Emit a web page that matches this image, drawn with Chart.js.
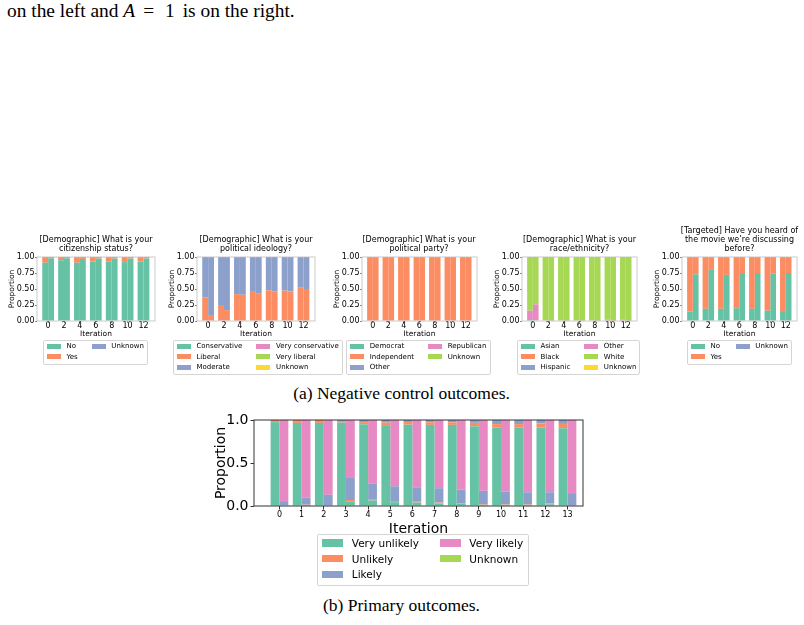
<!DOCTYPE html>
<html lang="en">
<head>
<meta charset="UTF-8">
<title>Negative control and primary outcomes</title>
<script src="https://cdn.jsdelivr.net/npm/chart.js@4"></script>
<style>
  body { margin: 0; background: #fff; }
  #page { position: relative; width: 804px; height: 625px; overflow: hidden; font-family: "DejaVu Sans", sans-serif; color: #000; }
  .serif { position: absolute; font-family: "Liberation Serif", "Times New Roman", serif; font-size: 17.5px; line-height: 1; white-space: nowrap; }
  canvas { position: absolute; }
  .ctitle { position: absolute; font-size: 8px; text-align: center; white-space: nowrap; transform: translateX(-50%); }
  .legend { position: absolute; display: grid; grid-auto-flow: column; column-gap: 2em; background: rgba(255,255,255,0.8); border: 1px solid #d5d5d5; border-radius: 2px; padding: 0 0.45em 0.25em 0.45em; white-space: nowrap; z-index: 2; }
  .legend .item { display: flex; align-items: center; height: 1.5em; }
  .legend .patch { width: 2em; height: 0.7em; margin-right: 0.8em; flex: none; }
</style>
</head>
<body>
<div id="page">
  <div class="serif" style="left:7px; top:0.5px; font-size:19.4px;">on the left and <i>A</i><span style="margin-left:8px; margin-right:11px;">=</span>1<span style="margin-left:3px;"></span> is on the right.</div>
  <div class="serif" style="left:401.5px; top:384.5px; transform:translateX(-50%);">(a) Negative control outcomes.</div>
  <div class="serif" style="left:401.5px; top:597px; transform:translateX(-50%);">(b) Primary outcomes.</div>
</div>
<script>
// Set2 colours, used in category order
const palette = ['#66c2a5', '#fc8d62', '#8da0cb', '#e78ac3', '#a6d854', '#ffd92f'];

// ---- negative control outcomes (iterations 0,2,...,12), A=0 then A=1 ----
const smallIters = [0, 2, 4, 6, 8, 10, 12];
const smallYTicks = [0, 0.25, 0.5, 0.75, 1];
const smallYLabels = ['0.00', '0.25', '0.50', '0.75', '1.00'];
const zeros7 = [0, 0, 0, 0, 0, 0, 0];

const citizenCats = ['No', 'Yes', 'Unknown'];
const citizenNoA0 = [0.91, 0.95, 0.91, 0.93, 0.93, 0.92, 0.93];
const citizenYesA0 = [0.09, 0.05, 0.09, 0.07, 0.07, 0.08, 0.07];
const citizenNoA1 = [0.98, 0.98, 0.97, 0.975, 0.975, 0.975, 0.975];
const citizenYesA1 = [0.02, 0.02, 0.03, 0.025, 0.025, 0.025, 0.025];

const ideologyCats = ['Conservative', 'Liberal', 'Moderate', 'Very conservative', 'Very liberal', 'Unknown'];
const ideologyLiberalA0 = [0.37, 0.25, 0.42, 0.455, 0.48, 0.475, 0.52];
const ideologyModerateA0 = [0.63, 0.75, 0.58, 0.545, 0.52, 0.525, 0.48];
const ideologyLiberalA1 = [0.08, 0.17, 0.41, 0.435, 0.465, 0.46, 0.5];
const ideologyModerateA1 = [0.92, 0.83, 0.59, 0.565, 0.535, 0.54, 0.5];

const partyCats = ['Democrat', 'Independent', 'Other', 'Republican', 'Unknown'];
const partyIndependentA0 = [1, 1, 1, 1, 1, 1, 1];
const partyIndependentA1 = [1, 1, 1, 1, 1, 1, 1];

const raceCats = ['Asian', 'Black', 'Hispanic', 'Other', 'White', 'Unknown'];
const raceAsianA0 = [0.03, 0, 0, 0, 0, 0, 0];
const raceOtherA0 = [0.13, 0.01, 0.01, 0.01, 0.01, 0.02, 0.02];
const raceWhiteA0 = [0.84, 0.99, 0.99, 0.99, 0.99, 0.98, 0.98];
const raceAsianA1 = [0.01, 0, 0, 0, 0, 0, 0];
const raceOtherA1 = [0.25, 0.005, 0.005, 0.005, 0.005, 0.005, 0.005];
const raceWhiteA1 = [0.74, 0.995, 0.995, 0.995, 0.995, 0.995, 0.995];

const movieCats = ['No', 'Yes', 'Unknown'];
const movieNoA0 = [0.15, 0.19, 0.19, 0.20, 0.19, 0.16, 0.155];
const movieYesA0 = [0.85, 0.81, 0.81, 0.80, 0.81, 0.84, 0.845];
const movieNoA1 = [0.73, 0.81, 0.72, 0.75, 0.75, 0.745, 0.75];
const movieYesA1 = [0.27, 0.19, 0.28, 0.25, 0.25, 0.255, 0.25];

// ---- primary outcome (iterations 0..13) ----
const mainIters = [0, 1, 2, 3, 4, 5, 6, 7, 8, 9, 10, 11, 12, 13];
const mainYTicks = [0, 0.5, 1];
const mainYLabels = ['0.0', '0.5', '1.0'];
const zeros14 = [0, 0, 0, 0, 0, 0, 0, 0, 0, 0, 0, 0, 0, 0];
const likelyCats = ['Very unlikely', 'Unlikely', 'Likely', 'Very likely', 'Unknown'];
const veryUnlikelyA0 = [0.975, 0.966, 0.966, 0.97, 0.95, 0.94, 0.946, 0.943, 0.943, 0.927, 0.912, 0.912, 0.912, 0.904];
const unlikelyA0 = [0.025, 0.034, 0.034, 0.02, 0.025, 0.03, 0.03, 0.03, 0.03, 0.04, 0.04, 0.04, 0.048, 0.05];
const likelyA0 = [0, 0, 0, 0.01, 0.025, 0.03, 0.024, 0.027, 0.027, 0.033, 0.048, 0.048, 0.04, 0.046];
const veryUnlikelyA1 = [0, 0.005, 0.005, 0.055, 0.065, 0.045, 0.04, 0.03, 0.025, 0.015, 0.015, 0.015, 0.02, 0.005];
const unlikelyA1 = [0, 0.01, 0.005, 0.015, 0.015, 0.012, 0.01, 0.01, 0.008, 0.007, 0.007, 0.007, 0.01, 0.005];
const likelyA1 = [0.057, 0.085, 0.12, 0.256, 0.184, 0.173, 0.168, 0.167, 0.157, 0.154, 0.143, 0.138, 0.13, 0.14];
const veryLikelyA1 = [0.943, 0.9, 0.87, 0.674, 0.736, 0.77, 0.782, 0.793, 0.81, 0.824, 0.835, 0.84, 0.84, 0.85];

const page = document.getElementById('page');
const FONT = 'DejaVu Sans';

function framePlugin(color, width) {
  return {
    id: 'frame',
    afterDatasetsDraw(chart) {
      const a = chart.chartArea, c = chart.ctx;
      c.save();
      c.strokeStyle = color;
      c.lineWidth = width;
      c.strokeRect(a.left, a.top, a.right - a.left, a.bottom - a.top);
      c.restore();
    }
  };
}

function addLegend(cats, left, top, fontSize) {
  const box = document.createElement('div');
  box.className = 'legend';
  box.style.left = left + 'px';
  box.style.top = top + 'px';
  box.style.fontSize = fontSize + 'px';
  box.style.gridTemplateRows = 'repeat(' + Math.ceil(cats.length / 2) + ', auto)';
  cats.forEach((c, k) => {
    const it = document.createElement('div');
    it.className = 'item';
    it.innerHTML = '<span class="patch" style="background:' + palette[k] + '"></span><span>' + c + '</span>';
    box.appendChild(it);
  });
  page.appendChild(box);
}

function addTitle(lines, cx, top, lineH) {
  const t = document.createElement('div');
  t.className = 'ctitle';
  t.style.left = cx + 'px';
  t.style.top = top + 'px';
  t.style.lineHeight = lineH + 'px';
  t.innerHTML = lines.join('<br>');
  page.appendChild(t);
}

// g: geometry of one panel, series: [A0 arrays, A1 arrays] in category order
function stackedPairs(g, cats, iters, series, yTicks, yLabels) {
  const canvas = document.createElement('canvas');
  const W = g.yAxisW + (g.plotRight - g.plotLeft) + g.padRight;
  const H = g.padTop + g.plotH + g.xAxisH;
  canvas.width = W;
  canvas.height = H;
  canvas.style.left = (g.plotLeft - g.yAxisW) + 'px';
  canvas.style.top = (g.plotTop - g.padTop) + 'px';
  page.appendChild(canvas);

  const datasets = [];
  ['a0', 'a1'].forEach((stack, s) => {
    cats.forEach((cat, k) => {
      const vals = series[s][k];
      datasets.push({
        label: cat,
        stack: stack,
        backgroundColor: palette[k],
        borderWidth: 0,
        categoryPercentage: g.catPct,
        barPercentage: 1,
        data: iters.map((it, i) => ({ x: it, y: vals[i] }))
      });
    });
  });

  new Chart(canvas, {
    type: 'bar',
    data: { datasets },
    options: {
      responsive: false,
      animation: false,
      events: [],
      layout: { padding: { top: g.padTop, right: g.padRight, left: 0, bottom: 0 } },
      plugins: { legend: { display: false }, tooltip: { enabled: false } },
      scales: {
        x: {
          type: 'linear', stacked: true, offset: false, min: g.xMin, max: g.xMax,
          afterBuildTicks: s => { s.ticks = iters.filter(v => g.xTickStep === 1 || v % 2 === 0).map(v => ({ value: v })); },
          afterFit: s => { s.height = g.xAxisH; },
          grid: { display: true, drawOnChartArea: false, offset: false, tickLength: g.tickLen, color: g.tickColor },
          border: { display: false },
          ticks: { font: { family: FONT, size: g.xTickSize, lineHeight: 1 }, color: '#000', padding: g.xTickPad, maxRotation: 0, autoSkip: false, callback: v => String(v) },
          title: { display: true, text: 'Iteration', color: '#000', font: { family: FONT, size: g.titleSize, lineHeight: 1.2 }, padding: { top: 0, bottom: g.xTitlePad } }
        },
        y: {
          stacked: true, min: 0, max: 1,
          afterBuildTicks: s => { s.ticks = yTicks.map(v => ({ value: v })); },
          afterFit: s => { s.width = g.yAxisW; },
          grid: { display: true, drawOnChartArea: false, tickLength: g.tickLen, color: g.tickColor },
          border: { display: false },
          ticks: { font: { family: FONT, size: g.yTickSize, lineHeight: 1 }, color: '#000', padding: g.yTickPad, callback: (v, i) => yLabels[i] },
          title: { display: true, text: 'Proportion', color: '#000', font: { family: FONT, size: g.titleSize, lineHeight: 1.2 }, padding: { top: g.yTitlePad, bottom: 0 } }
        }
      }
    },
    plugins: [framePlugin(g.frameColor, g.frameW)]
  });
}

function smallGeom(left, right) {
  return {
    plotLeft: left, plotRight: right, plotTop: 257, plotH: 64,
    yAxisW: 36, padTop: 6, padRight: 4, xAxisH: 20,
    xMin: -1.4, xMax: 13.45, xTickStep: 2, catPct: 0.74,
    tickLen: 2, tickColor: '#888', xTickSize: 8, yTickSize: 8, xTickPad: -1, yTickPad: 0.5,
    titleSize: 7.5, xTitlePad: 2.2, yTitlePad: 6.5, frameColor: '#bdbdbd', frameW: 0.8
  };
}

// (a) negative control outcomes
stackedPairs(smallGeom(36.7, 155), citizenCats, smallIters,
  [[citizenNoA0, citizenYesA0, zeros7], [citizenNoA1, citizenYesA1, zeros7]], smallYTicks, smallYLabels);
stackedPairs(smallGeom(196.7, 315), ideologyCats, smallIters,
  [[zeros7, ideologyLiberalA0, ideologyModerateA0, zeros7, zeros7, zeros7],
   [zeros7, ideologyLiberalA1, ideologyModerateA1, zeros7, zeros7, zeros7]], smallYTicks, smallYLabels);
stackedPairs(smallGeom(361.7, 476.7), partyCats, smallIters,
  [[zeros7, partyIndependentA0, zeros7, zeros7, zeros7], [zeros7, partyIndependentA1, zeros7, zeros7, zeros7]], smallYTicks, smallYLabels);
stackedPairs(smallGeom(522, 637), raceCats, smallIters,
  [[raceAsianA0, zeros7, zeros7, raceOtherA0, raceWhiteA0, zeros7],
   [raceAsianA1, zeros7, zeros7, raceOtherA1, raceWhiteA1, zeros7]], smallYTicks, smallYLabels);
stackedPairs(smallGeom(682, 797), movieCats, smallIters,
  [[movieNoA0, movieYesA0, zeros7], [movieNoA1, movieYesA1, zeros7]], smallYTicks, smallYLabels);

addTitle(['[Demographic] What is your', 'citizenship status?'], 96, 236, 8.7);
addTitle(['[Demographic] What is your', 'political ideology?'], 256, 236, 8.7);
addTitle(['[Demographic] What is your', 'political party?'], 419, 236, 8.7);
addTitle(['[Demographic] What is your', 'race/ethnicity?'], 579.5, 236, 8.7);
addTitle(['[Targeted] Have you heard of', 'the movie we\u2019re discussing', 'before?'], 739.5, 227.3, 8.7);

addLegend(citizenCats, 42.7, 340, 7);
addLegend(ideologyCats, 172.7, 340, 7);
addLegend(partyCats, 346, 340, 7);
addLegend(raceCats, 516.7, 340, 7);
addLegend(movieCats, 686.7, 340, 7);

// (b) primary outcomes
stackedPairs({
  plotLeft: 254, plotRight: 583, plotTop: 419, plotH: 87,
  yAxisW: 50, padTop: 8, padRight: 6, xAxisH: 32,
  xMin: -1.15, xMax: 13.7, xTickStep: 1, catPct: 0.8,
  tickLen: 3.5, tickColor: '#333', xTickSize: 8, yTickSize: 14, xTickPad: 1.5, yTickPad: 2,
  titleSize: 14, xTitlePad: 0.6, yTitlePad: 9.3, frameColor: '#333', frameW: 1
}, likelyCats, mainIters,
  [[veryUnlikelyA0, unlikelyA0, likelyA0, zeros14, zeros14],
   [veryUnlikelyA1, unlikelyA1, likelyA1, veryLikelyA1, zeros14]], mainYTicks, mainYLabels);

addLegend(likelyCats, 316.7, 534, 10.5);
</script>
</body>
</html>
